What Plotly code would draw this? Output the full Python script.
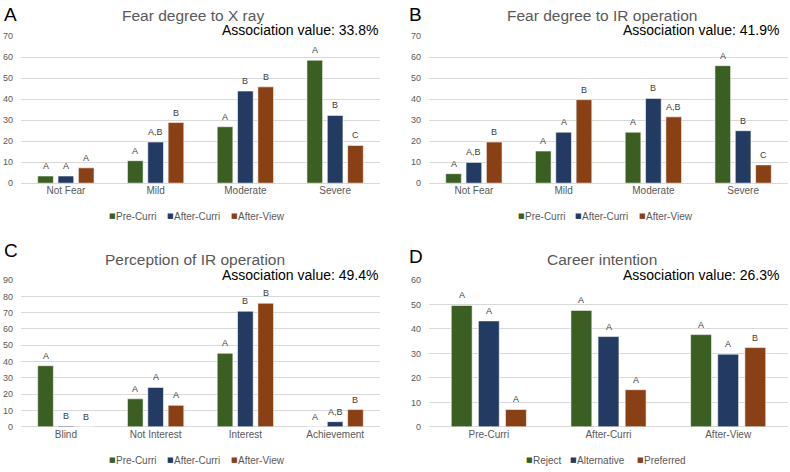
import plotly.graph_objects as go

W, H = 790, 472

# ---------------- data ----------------
series_time = ["Pre-Curri", "After-Curri", "After-View"]
series_career = ["Reject", "Alternative", "Preferred"]
colors = ["#3B5E23", "#233A63", "#8A4015"]

cat_A = ["Not Fear", "Mild", "Moderate", "Severe"]
A_pre = [3.4, 10.7, 26.9, 58.6]
A_after_curri = [3.4, 19.6, 43.9, 32.3]
A_after_view = [7.3, 28.9, 45.9, 18.0]
A_pre_sig = ["A", "A", "A", "A"]
A_curri_sig = ["A", "A,B", "B", "B"]
A_view_sig = ["A", "B", "B", "C"]

cat_B = ["Not Fear", "Mild", "Moderate", "Severe"]
B_pre = [4.5, 15.3, 24.3, 56.0]
B_after_curri = [9.9, 24.3, 40.4, 25.0]
B_after_view = [19.6, 39.8, 31.6, 8.7]
B_pre_sig = ["A", "A", "A", "A"]
B_curri_sig = ["A,B", "A", "B", "B"]
B_view_sig = ["B", "B", "A,B", "C"]

cat_C = ["Blind", "Not Interest", "Interest", "Achievement"]
C_pre = [37.5, 17.2, 45.1, 0]
C_after_curri = [0.6, 24.2, 70.9, 3.2]
C_after_view = [0, 13.2, 75.8, 10.6]
C_pre_sig = ["A", "A", "A", "A"]
C_curri_sig = ["B", "A", "B", "A,B"]
C_view_sig = ["B", "A", "B", "B"]

cat_D = ["Pre-Curri", "After-Curri", "After-View"]
D_reject = [49.6, 47.6, 37.7]
D_alternative = [43.3, 36.9, 29.7]
D_preferred = [7.1, 15.2, 32.4]
D_reject_sig = ["A", "A", "A"]
D_alternative_sig = ["A", "A", "A"]
D_preferred_sig = ["A", "A", "B"]

titles = ["Fear degree to X ray", "Fear degree to IR operation",
          "Perception of IR operation", "Career intention"]
assoc = ["Association value: 33.8%", "Association value: 41.9%",
         "Association value: 49.4%", "Association value: 26.3%"]
letters = ["A", "B", "C", "D"]
y_max = [70, 70, 90, 60]

# ---------------- layout helpers ----------------
def px(x):
    return x / W

def py(y):
    return 1 - y / H

FONT = "Liberation Sans"
GREY = "#595959"
BARGAP = 0.32
BARGROUPGAP = 0.23

panels = [
    dict(cats=cat_A, vals=[A_pre, A_after_curri, A_after_view],
         sig=[A_pre_sig, A_curri_sig, A_view_sig], names=series_time,
         x0=21, x1=380, y0=32, y1=182),
    dict(cats=cat_B, vals=[B_pre, B_after_curri, B_after_view],
         sig=[B_pre_sig, B_curri_sig, B_view_sig], names=series_time,
         x0=429, x1=788, y0=32, y1=182),
    dict(cats=cat_C, vals=[C_pre, C_after_curri, C_after_view],
         sig=[C_pre_sig, C_curri_sig, C_view_sig], names=series_time,
         x0=21, x1=380, y0=281, y1=431),
    dict(cats=cat_D, vals=[D_reject, D_alternative, D_preferred],
         sig=[D_reject_sig, D_alternative_sig, D_preferred_sig], names=series_career,
         x0=429, x1=788, y0=281, y1=431),
]

title_pos = [(193, 11), (602, 11), (195, 260), (602, 260)]
assoc_pos = [(380, 26), (781, 26), (380, 276), (781, 276)]
letter_pos = [(2, 10), (407, 10), (2, 251), (407, 257)]
legend_items = [
    [(108, 0), (166, 1), (230, 2)],
    [(517, 0), (574, 1), (638, 2)],
    [(108, 0), (166, 1), (230, 2)],
    [(525, 0), (569, 1), (636, 2)],
]
legend_y = [216, 216, 465, 465]

fig = go.Figure()
annotations = []
layout_axes = {}

for i, p in enumerate(panels):
    n = "" if i == 0 else str(i + 1)
    xa, ya = "x" + n, "y" + n
    cat_px = (p["x1"] - p["x0"]) / len(p["cats"])
    slot_px = cat_px * (1 - BARGAP) / 3
    for k in range(3):
        fig.add_trace(go.Bar(
            x=p["cats"], y=p["vals"][k], name=p["names"][k],
            marker=dict(color=colors[k], line=dict(color="rgba(255,255,255,0.7)", width=0.8)),
            xaxis=xa, yaxis=ya, showlegend=False, cliponaxis=False,
        ))
        # significance letters above each bar
        for c, v, s in zip(p["cats"], p["vals"][k], p["sig"][k]):
            annotations.append(dict(
                text=s, x=c, y=v, xref=xa, yref=ya,
                xshift=(k - 1) * slot_px, yshift=3,
                xanchor="center", yanchor="bottom", showarrow=False,
                font=dict(family=FONT, size=9, color="#404040")))
    layout_axes["xaxis" + n] = dict(
        domain=[px(p["x0"]), px(p["x1"])], anchor=ya, type="category",
        showgrid=False, showline=False, ticks="", zeroline=False,
        tickfont=dict(family=FONT, size=10, color=GREY),
    )
    layout_axes["yaxis" + n] = dict(
        domain=[py(p["y1"]), py(p["y0"])], anchor=xa,
        range=[0, y_max[i]], dtick=10, showgrid=True, gridcolor="#D9D9D9",
        gridwidth=1, zeroline=True, zerolinecolor="#D9D9D9", zerolinewidth=1,
        showline=False, ticks="", ticklabelstandoff=7,
        tickfont=dict(family=FONT, size=9, color=GREY),
    )
    annotations.append(dict(
        text=titles[i], x=px(title_pos[i][0]), y=py(title_pos[i][1]),
        xref="paper", yref="paper", xanchor="center", yanchor="middle",
        showarrow=False, font=dict(family=FONT, size=15.5, color=GREY)))
    annotations.append(dict(
        text=assoc[i], x=px(assoc_pos[i][0]), y=py(assoc_pos[i][1]),
        xref="paper", yref="paper", xanchor="right", yanchor="middle",
        showarrow=False, font=dict(family=FONT, size=14, color="#000000")))
    annotations.append(dict(
        text=letters[i], x=px(letter_pos[i][0]), y=py(letter_pos[i][1]),
        xref="paper", yref="paper", xanchor="left", yanchor="middle",
        showarrow=False, font=dict(family=FONT, size=19, color="#000000")))
    for (lx, k) in legend_items[i]:
        annotations.append(dict(
            text="■", x=px(lx - 1), y=py(legend_y[i]),
            xref="paper", yref="paper", xanchor="left", yanchor="middle",
            showarrow=False, font=dict(family="DejaVu Sans", size=7, color=colors[k])))
        annotations.append(dict(
            text=p["names"][k], x=px(lx + 6), y=py(legend_y[i]),
            xref="paper", yref="paper", xanchor="left", yanchor="middle",
            showarrow=False, font=dict(family=FONT, size=10, color=GREY)))

fig.update_layout(
    width=W, height=H, margin=dict(l=0, r=0, t=0, b=0),
    paper_bgcolor="white", plot_bgcolor="white",
    barmode="group", bargap=BARGAP, bargroupgap=BARGROUPGAP,
    showlegend=False, annotations=annotations,
    font=dict(family=FONT),
    **layout_axes,
)

fig.write_html(
    "out.html",
    config={"displayModeBar": False},
    post_script="document.body.style.margin='0px';document.body.style.overflow='hidden';",
)
